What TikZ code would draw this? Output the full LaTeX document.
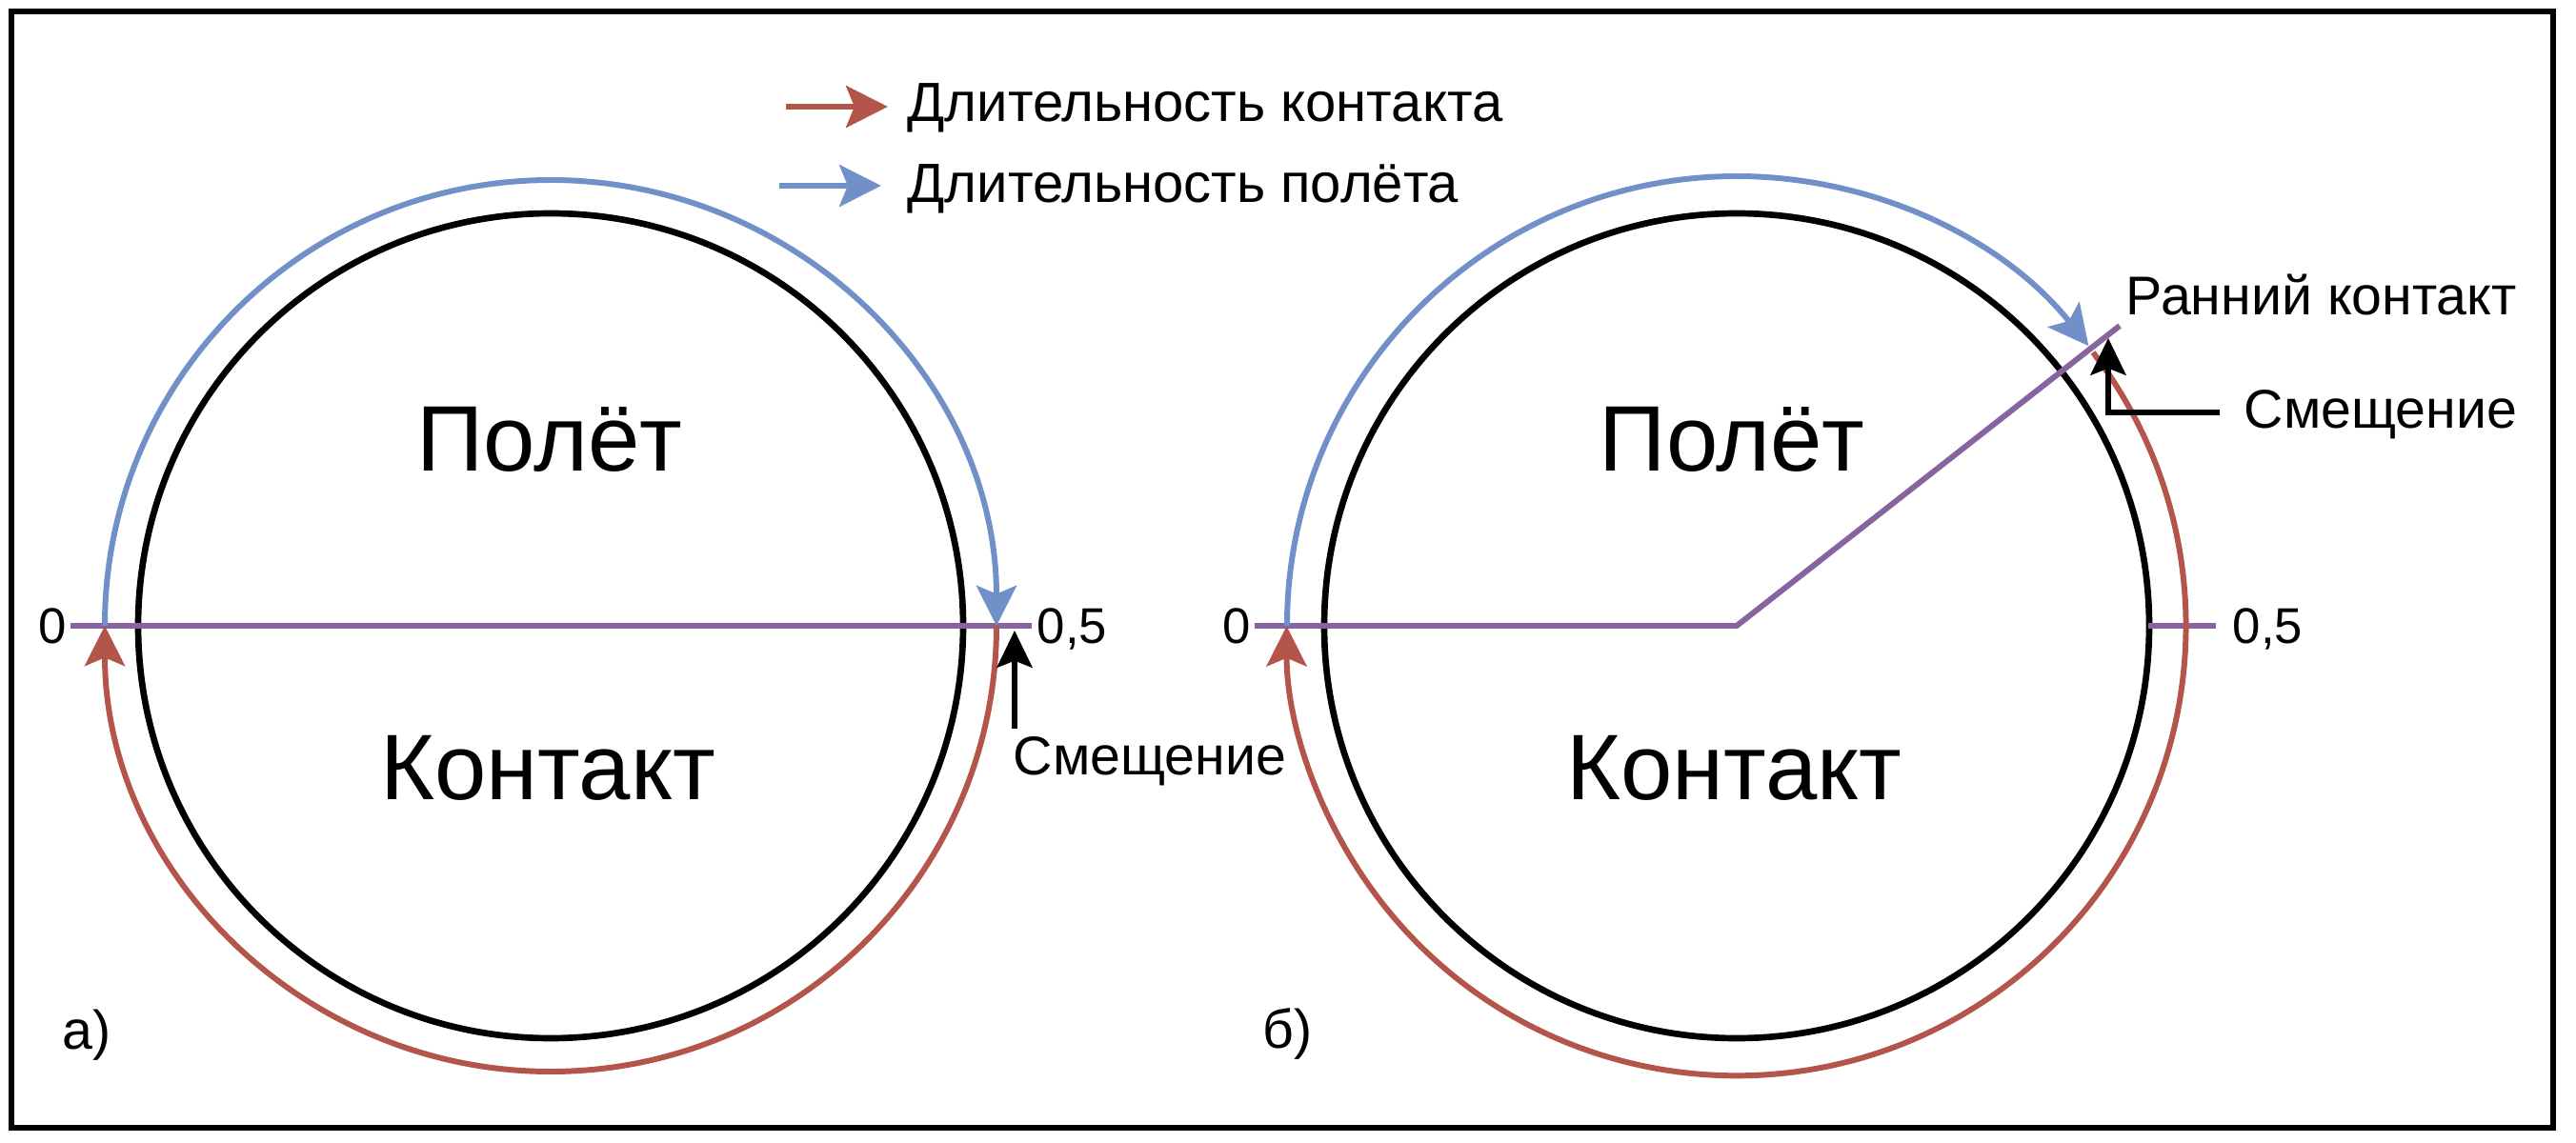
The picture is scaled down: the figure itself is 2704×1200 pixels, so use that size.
\documentclass[tikz,border=0pt]{standalone}
\usepackage{fontspec}
\setmainfont{Liberation Sans}
\usetikzlibrary{arrows.meta}

\definecolor{ContactColor}{RGB}{180,85,75}
\definecolor{FlightColor}{RGB}{114,144,200}
\definecolor{PhaseColor}{RGB}{135,100,160}
\tikzstyle{smalltext}=[inner sep=0pt, font=\fontsize{16.3}{20}\selectfont]
\tikzstyle{digittext}=[inner sep=0pt, font=\fontsize{15}{18}\selectfont]
\tikzstyle{legendtext}=[inner sep=0pt, font=\fontsize{16.5}{20}\selectfont]
\tikzstyle{phasetext}=[inner sep=0pt, font=\fontsize{27.8}{34}\selectfont]
\tikzstyle{stancecircle}=[circle, draw=black, line width=1.9pt, inner sep=0pt, minimum size=86.6mm]
\tikzstyle{timearc}=[line width=1.7pt, -{Stealth[length=12pt, width=12pt, inset=2.5pt]}]
\tikzstyle{contact}=[timearc, draw=ContactColor]
\tikzstyle{flight}=[timearc, draw=FlightColor]
\tikzstyle{legendarrow}=[-{Stealth[length=12.5pt, width=12.5pt, inset=2.5pt]}]
\tikzstyle{phase}=[draw=PhaseColor, line width=1.7pt]
\tikzstyle{offsetarrow}=[draw=black, line width=1.8pt, -{Stealth[length=11pt, width=10.5pt, inset=2pt]}]

\begin{document}
\begin{tikzpicture}[x=0.1mm, y=0.1mm]
    \useasboundingbox (0,0) rectangle (2704,-1200);
    \draw[line width=1.5pt] (12,-12) rectangle (2680,-1184);

    % legend
    \coordinate (contact_from) at (825,-112);
    \coordinate (contact_to)   at (932,-112);
    \coordinate (flight_from)  at (818,-195);
    \coordinate (flight_to)    at (925,-195);
    \draw[contact, legendarrow] (contact_from) -- (contact_to);
    \draw[flight, legendarrow]  (flight_from)  -- (flight_to);
    \node at (952,-128) (contact_text) [legendtext, anchor=base west] {Длительность контакта};
    \node at (952,-213) (flight_text)  [legendtext, anchor=base west] {Длительность полёта};

    % a) symmetric gait
    \node at (578,-657) (cycle_a) [stancecircle] {};
    \coordinate (a_line_start) at (74,-657);
    \coordinate (a_line_end)   at (1083,-657);
    \coordinate (a_zero)       at (110,-657);
    \coordinate (a_half)       at (1046,-657);
    \coordinate (a_offset_from) at (1065,-765);
    \coordinate (a_offset_to)   at (1065,-662);

    \draw[phase] (a_line_start) -- (a_line_end);
    \draw[flight]  (a_zero) arc[start angle=180, end angle=0, radius=468];
    \draw[contact] (a_half) arc[start angle=0, end angle=-180, radius=468];
    \draw[offsetarrow] (a_offset_from) -- (a_offset_to);

    \node at (55,-675)    (a_zero_text)   [digittext, anchor=base]      {0};
    \node at (1088,-675)  (a_half_text)   [digittext, anchor=base west] {0,5};
    \node at (1063,-813)  (a_offset_text) [smalltext, anchor=base west] {Смещение};
    \node at (577,-495)   (a_flight)      [phasetext, anchor=base]      {Полёт};
    \node at (575,-839)   (a_contact)     [phasetext, anchor=base]      {Контакт};
    \node at (65,-1101)   (a_caption)     [smalltext, anchor=base west] {а)};

    % b) early contact
    \node at (1823,-657) (cycle_b) [stancecircle] {};
    \coordinate (b_line_start) at (1317,-657);
    \coordinate (b_ray_end)    at (2225,-342);
    \coordinate (b_tick_start) at (2255,-657);
    \coordinate (b_tick_end)   at (2326,-657);
    \coordinate (b_zero)       at (1351,-657);
    \coordinate (b_early)      at (2197,-370);
    \coordinate (b_offset_from) at (2330,-433);
    \coordinate (b_offset_to)   at (2213,-355);

    \draw[phase] (b_line_start) -- (cycle_b.center) -- (b_ray_end);
    \draw[phase] (b_tick_start) -- (b_tick_end);
    \draw[flight]  (b_zero)  arc[start angle=180, end angle=38.5, radius=472];
    \draw[contact] (b_early) arc[start angle=37.5, end angle=-180, radius=472];
    \draw[offsetarrow] (b_offset_from) -| (b_offset_to);

    \node at (1298,-675)  (b_zero_text)   [digittext, anchor=base]      {0};
    \node at (2343,-675)  (b_half_text)   [digittext, anchor=base west] {0,5};
    \node at (2231,-330)  (b_early_text)  [smalltext, anchor=base west] {Ранний контакт};
    \node at (2355,-450)  (b_offset_text) [smalltext, anchor=base west] {Смещение};
    \node at (1818,-495)  (b_flight)      [phasetext, anchor=base]      {Полёт};
    \node at (1820,-839)  (b_contact)     [phasetext, anchor=base]      {Контакт};
    \node at (1325,-1100) (b_caption)     [smalltext, anchor=base west] {б)};
\end{tikzpicture}
\end{document}
